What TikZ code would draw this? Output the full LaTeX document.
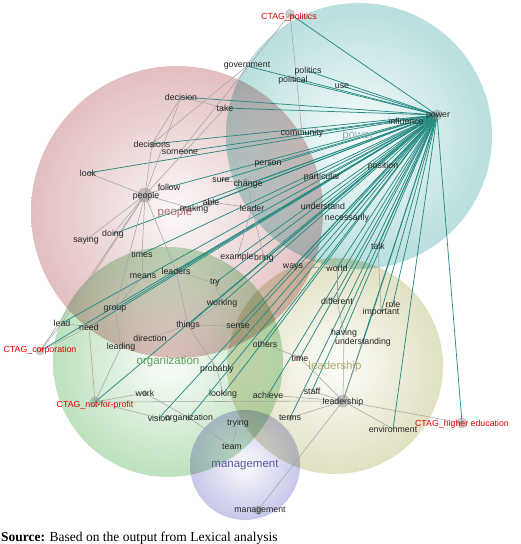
\documentclass[tikz,border=0pt]{standalone}
\usepackage{fontspec}
\setmainfont{Liberation Serif}
\newfontfamily\wsans{Liberation Sans}
\definecolor{powc}{RGB}{122,194,192}
\definecolor{peoc}{RGB}{200,132,134}
\definecolor{orgc}{RGB}{130,198,130}
\definecolor{leac}{RGB}{198,196,138}
\definecolor{manc}{RGB}{146,146,214}
\definecolor{tealE}{RGB}{40,140,132}
\definecolor{grayE}{RGB}{165,165,165}
\definecolor{powL}{RGB}{140,180,180}
\definecolor{peoL}{RGB}{180,110,115}
\definecolor{orgL}{RGB}{95,160,90}
\definecolor{leaL}{RGB}{170,170,110}
\definecolor{manL}{RGB}{90,90,160}
\pgfdeclareradialshading{shpow}{\pgfpoint{0bp}{0bp}}{color(0bp)=(powc!6); color(50bp)=(powc)}
\pgfdeclareradialshading{shpeo}{\pgfpoint{0bp}{0bp}}{color(0bp)=(peoc!6); color(50bp)=(peoc)}
\pgfdeclareradialshading{shorg}{\pgfpoint{0bp}{0bp}}{color(0bp)=(orgc!4); color(50bp)=(orgc)}
\pgfdeclareradialshading{shlea}{\pgfpoint{0bp}{0bp}}{color(0bp)=(leac!4); color(50bp)=(leac)}
\pgfdeclareradialshading{shman}{\pgfpoint{0bp}{0bp}}{color(0bp)=(manc!4); color(50bp)=(manc)}
\pgfdeclarelayer{bg}
\pgfdeclarelayer{edges}
\pgfsetlayers{bg,edges,main}
\begin{document}
\begin{tikzpicture}[x=1pt,y=-1pt,
  w/.style={font=\wsans\fontsize{8.8}{9}\selectfont, text=black!85, inner sep=0pt},
  ctag/.style={w, text=red!90!black},
  cl/.style={font=\wsans\fontsize{11.5}{12}\selectfont, inner sep=0pt},
  dot/.style={circle, fill=black!45, fill opacity=0.45, draw=none, inner sep=0pt, minimum size=#1},
  dot/.default=7pt,
  te/.style={draw=tealE, line width=0.75pt},
  ge/.style={draw=grayE, line width=0.55pt}]
\useasboundingbox (0,0) rectangle (520,544);
% circles
\begin{pgfonlayer}{bg}
\begin{scope}[blend mode=multiply]
\shade[shading=shpeo] (177,212) circle (146pt);
\shade[shading=shpow] (359,136) circle (133pt);
\shade[shading=shorg] (168,362) circle (115pt);
\shade[shading=shlea] (335,366) circle (108pt);
\shade[shading=shman] (245,465) circle (55pt);
\end{scope}
\end{pgfonlayer}
% circle labels
\node[cl, text=powL] (lpow) at (358,137) {power};
\node[cl, text=peoL] (lpeo) at (175,213) {people};
\node[cl, text=orgL] (lorg) at (168,362) {organization};
\node[cl, text=leaL] (llea) at (335,367) {leadership};
\node[cl, text=manL] (lman) at (245,465) {management};
% hub dots
\node[dot=11pt] (P) at (437,115) {};
\node[dot=15pt] (PE) at (145,195) {};
\node[dot=13pt] (L) at (343,401) {};
\node[dot=9pt] (M) at (258,510) {};
\node[dot=10pt] (CP) at (290,14) {};
\node[dot=9pt] (CC) at (40,351) {};
\node[dot=11pt] (CN) at (95,402) {};
\node[dot=11pt] (CH) at (462,423) {};
\node[dot=6pt] (dch) at (246,181) {};
\node[dot=6pt] (dab) at (209,204) {};
\node[dot=6pt] (dth) at (188,325) {};
\node[dot=6pt] (dti) at (298,358) {};
\node[dot=6pt] (dte) at (290,418) {};
\node[dot=6pt] (dwo) at (145,393) {};
\node[dot=6pt] (dor) at (188,418) {};
\node[dot=6pt] (dde) at (152,145) {};
% words
\node[ctag] (ctagpol) at (289,17) {CTAG\_politics};
\node[w] (government) at (247,66) {government};
\node[w] (politics) at (308,71) {politics};
\node[w] (political) at (293,80) {political};
\node[w] (use) at (342,86) {use};
\node[w] (decision) at (181,97) {decision};
\node[w] (take) at (225,108) {take};
\node[w] (powerw) at (438,116) {power};
\node[w] (influence) at (406,121) {influence};
\node[w] (community) at (302,133) {community};
\node[w] (decisions) at (152,144) {decisions};
\node[w] (someone) at (180,152) {someone};
\node[w] (person) at (268,164) {person};
\node[w] (position) at (383,166) {position};
\node[w] (look) at (88,173) {look};
\node[w] (particular) at (322,177) {particular};
\node[w] (sure) at (221,180) {sure};
\node[w] (change) at (248,184) {change};
\node[w] (follow) at (169,187) {follow};
\node[w] (peoplew) at (146,196) {people};
\node[w] (able) at (211,202) {able};
\node[w] (making) at (194,209) {making};
\node[w] (leader) at (252,208) {leader};
\node[w] (understand) at (323,206) {understand};
\node[w] (necessarily) at (347,218) {necessarily};
\node[w] (doing) at (113,234) {doing};
\node[w] (saying) at (86,240) {saying};
\node[w] (talk) at (378,246) {talk};
\node[w] (times) at (142,254) {times};
\node[w] (example) at (237,257) {example};
\node[w] (bring) at (264,258) {bring};
\node[w] (ways) at (293,267) {ways};
\node[w] (world) at (337,268) {world};
\node[w] (leaders) at (176,271) {leaders};
\node[w] (means) at (143,276) {means};
\node[w] (try) at (215,283) {try};
\node[w] (different) at (337,301) {different};
\node[w] (role) at (393,304) {role};
\node[w] (working) at (222,303) {working};
\node[w] (group) at (115,309) {group};
\node[w] (important) at (381,312) {important};
\node[w] (lead) at (62,323) {lead};
\node[w] (things) at (188,325) {things};
\node[w] (sense) at (238,326) {sense};
\node[w] (need) at (89,327) {need};
\node[w] (having) at (344,333) {having};
\node[w] (direction) at (150,338) {direction};
\node[w] (understanding) at (363,342) {understanding};
\node[w] (others) at (265,344) {others};
\node[w] (leading) at (121,347) {leading};
\node[ctag] (ctagcorp) at (40,350) {CTAG\_corporation};
\node[w] (time) at (300,358) {time};
\node[w] (probably) at (217,369) {probably};
\node[w] (staff) at (312,391) {staff};
\node[w] (work) at (145,393) {work};
\node[w] (looking) at (223,394) {looking};
\node[w] (achieve) at (268,395) {achieve};
\node[w] (leadershipw) at (343,402) {leadership};
\node[ctag] (ctagnfp) at (95,405) {CTAG\_not-for-profit};
\node[w] (vision) at (159,418) {vision};
\node[w] (organizationw) at (189,418) {organization};
\node[w] (terms) at (290,418) {terms};
\node[w] (trying) at (238,423) {trying};
\node[ctag] (ctaghe) at (462,424) {CTAG\_higher education};
\node[w] (environment) at (393,429) {environment};
\node[w] (team) at (232,447) {team};
\node[w] (managementw) at (260,511) {management};
% edges
\begin{pgfonlayer}{edges}
\foreach \n in {CP,government,politics,political,use,decision,take,influence,community,decisions,someone,look,person,position,particular,sure,change,follow,able,making,leader,understand,necessarily,doing,talk,times,example,bring,ways,world,leaders,try,working,group,lead,need,CC,things,sense,different,role,important,having,understanding,others,time,probably,staff,looking,achieve,L,CN,organizationw,vision,terms,environment,CH}
  \draw[te] (P.center) -- (\n.center);
\foreach \a/\b in {CP/someone,CP/community,decisions/government,decision/decisions,decision/take,decision/PE,decisions/PE,take/PE,look/PE,PE/saying,PE/doing,PE/times,PE/leaders,PE/follow,PE/making,PE/lead,PE/CC,PE/group,sure/change,change/leader,able/leader,making/able,leader/example,leader/bring,times/means,means/group,leaders/things,leaders/try,try/working,working/things,things/direction,things/sense,things/probably,direction/leading,group/need,group/leading,need/lead,lead/CC,need/CC,need/CN,leading/CN,CN/work,work/organizationw,CN/vision,CN/L,organizationw/team,team/trying,others/time,time/L,staff/L,terms/L,achieve/L,environment/L,CH/L,M/L,having/L,understanding/L,world/different,different/having,ways/world,talk/important,role/important,sense/others,probably/looking}
  \draw[ge] (\a.center) -- (\b.center);
\end{pgfonlayer}
% caption
\node[anchor=base west, inner sep=0pt, font=\fontsize{13.5}{15}\selectfont] (src) at (1,541) {\textbf{Source:} Based on the output from Lexical analysis};
\end{tikzpicture}
\end{document}
